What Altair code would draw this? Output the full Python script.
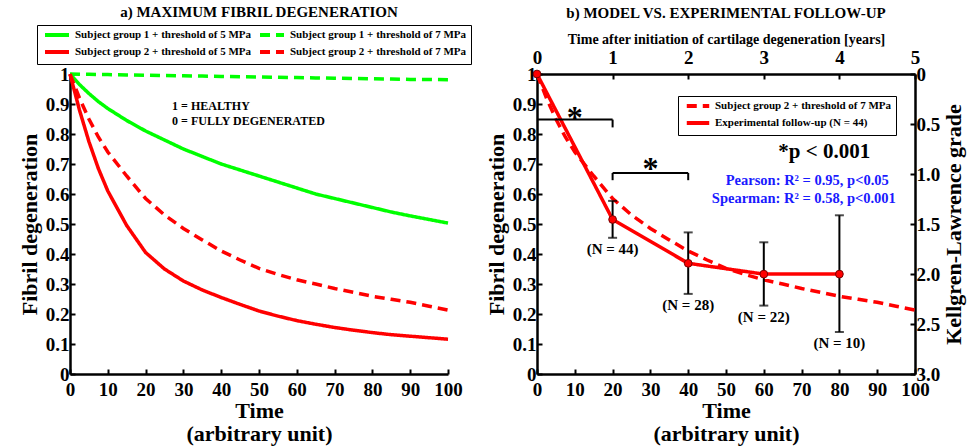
import altair as alt
import pandas as pd

FONT = "Liberation Serif"

# ---------- data ----------
t = [0, 2.5, 5, 7.5, 10, 15, 20, 25, 30, 35, 40, 45, 50, 55, 60, 65, 70, 75, 80, 85, 90, 95, 100]
g1_5 = [1.0, 0.965, 0.935, 0.908, 0.885, 0.845, 0.81, 0.78, 0.75, 0.725, 0.70, 0.68, 0.66, 0.64,
        0.62, 0.60, 0.585, 0.57, 0.555, 0.54, 0.527, 0.515, 0.503]
g1_7 = [1.0, 0.9995, 0.999, 0.9985, 0.998, 0.997, 0.996, 0.995, 0.994, 0.993, 0.992, 0.991, 0.990,
        0.989, 0.988, 0.987, 0.986, 0.985, 0.984, 0.983, 0.982, 0.9815, 0.981]
g2_5 = [1.0, 0.88, 0.775, 0.685, 0.61, 0.495, 0.405, 0.35, 0.31, 0.28, 0.255, 0.232, 0.21, 0.193,
        0.178, 0.166, 0.155, 0.146, 0.138, 0.131, 0.126, 0.121, 0.116]
g2_7 = [1.0, 0.92, 0.85, 0.79, 0.74, 0.66, 0.585, 0.53, 0.485, 0.447, 0.41, 0.38, 0.352, 0.332,
        0.314, 0.30, 0.285, 0.272, 0.259, 0.249, 0.239, 0.226, 0.213]

# legend order (filled column by column): g1-5MPa, g2-5MPa | g1-7MPa, g2-7MPa
series_names = ["Subject group 1 + threshold of 5 MPa", "Subject group 2 + threshold of 5 MPa",
                "Subject group 1 + threshold of 7 MPa", "Subject group 2 + threshold of 7 MPa"]
series_values = [g1_5, g2_5, g1_7, g2_7]
series_colors = ["#00ff00", "#ff0000", "#00ff00", "#ff0000"]
series_dashes = [[1, 0], [1, 0], [10, 6], [10, 6]]

exp_t = [0, 20, 40, 60, 80]
exp_v = [1.0, 0.515, 0.369, 0.333, 0.333]
err_t = [20, 40, 60, 80]
err_lo = [0.454, 0.267, 0.228, 0.140]
err_hi = [0.577, 0.472, 0.439, 0.529]
n_labels = ["(N = 44)", "(N = 28)", "(N = 22)", "(N = 10)"]

right_series = ["Subject group 2 + threshold of 7 MPa", "Experimental follow-up (N = 44)"]

x_ticks = list(range(0, 101, 10))
y_ticks = [i / 10 for i in range(11)]
year_ticks = [0, 1, 2, 3, 4, 5]
kl_ticks = [0, 0.5, 1.0, 1.5, 2.0, 2.5, 3.0]

# ---------- tables ----------
rows = []
for name, vals in zip(series_names, series_values):
    for tt, v in zip(t, vals):
        rows.append({"t": tt, "v": v, "series": name})
left_df = pd.DataFrame(rows)

model_df = pd.DataFrame({"t": t, "v": g2_7, "s": right_series[0]})
exp_df = pd.DataFrame({"t": exp_t, "v": exp_v, "s": right_series[1]})
err_df = pd.DataFrame({"t": err_t, "lo": err_lo, "hi": err_hi, "n": n_labels})

xs = alt.Scale(domain=[0, 100], nice=False)
ys = alt.Scale(domain=[0, 1], nice=False)

x_axis = alt.Axis(values=x_ticks, title=["Time", "(arbitrary unit)"], titleLineHeight=23,
                  titlePadding=1, labelPadding=11, labelOverlap=False, labelFlush=False)
y_axis = alt.Axis(values=y_ticks, format="~g", title="Fibril degeneration", titlePadding=4,
                  labelOverlap=False, labelFlush=False)


def XF(f):
    return alt.X(f, scale=xs, axis=x_axis)


def YF(f):
    return alt.Y(f, scale=ys, axis=y_axis)


def XD(v):
    return alt.XDatum(v, scale=xs, axis=x_axis)


def YD(v):
    return alt.YDatum(v, scale=ys, axis=y_axis)


SYM = "M-3,0H3"

# ---------- left panel ----------
legend_left = alt.Legend(orient="none", legendX=-33, legendY=-49, columns=2, strokeColor="black",
                         padding=4, symbolType=SYM, symbolStrokeWidth=4, symbolSize=64,
                         symbolOffset=10, labelOffset=12,
                         labelFont=FONT, labelFontSize=11, labelFontWeight="bold", labelLimit=300,
                         columnPadding=0, rowPadding=1, fillColor="white")

left_lines = alt.Chart(left_df).mark_line(strokeWidth=3.5).encode(
    x=XF("t:Q"),
    y=YF("v:Q"),
    color=alt.Color("series:N", title=None,
                    scale=alt.Scale(domain=series_names, range=series_colors),
                    legend=legend_left),
    strokeDash=alt.StrokeDash("series:N", title=None,
                              scale=alt.Scale(domain=series_names, range=series_dashes),
                              legend=legend_left),
)

healthy = alt.Chart(pd.DataFrame({"a": [0]})).mark_text(
    text=["1 = HEALTHY", "0 = FULLY DEGENERATED"], align="left", baseline="middle",
    font=FONT, fontSize=12, fontWeight="bold", color="black", lineHeight=15
).encode(x=XD(27.0), y=YD(0.895))

left = alt.layer(left_lines, healthy).properties(
    width=378, height=300,
    title=alt.TitleParams("a) MAXIMUM FIBRIL DEGENERATION", offset=5, anchor="middle"),
)

# ---------- right panel ----------
legend_right = alt.Legend(orient="none", legendX=141, legendY=22, strokeColor="black",
                          padding=4, symbolType=SYM, symbolStrokeWidth=4, symbolSize=56,
                          symbolOffset=10, labelOffset=11,
                          labelFont=FONT, labelFontSize=11, labelFontWeight="bold", labelLimit=300,
                          rowPadding=1, fillColor="white")

r_color = alt.Color("s:N", title=None, scale=alt.Scale(domain=right_series, range=["#ff0000", "#ff0000"]),
                    legend=legend_right)
r_dash = alt.StrokeDash("s:N", title=None, scale=alt.Scale(domain=right_series, range=[[10, 6], [1, 0]]),
                        legend=legend_right)

model_line = alt.Chart(model_df).mark_line(strokeWidth=3.5).encode(
    x=XF("t:Q"), y=YF("v:Q"), color=r_color, strokeDash=r_dash,
)
exp_line = alt.Chart(exp_df).mark_line(strokeWidth=3.5).encode(
    x=XF("t:Q"), y=YF("v:Q"), color=r_color, strokeDash=r_dash,
)
err_rules = alt.Chart(err_df).mark_rule(color="black", strokeWidth=2).encode(
    x=XF("t:Q"), y=YF("lo:Q"), y2="hi:Q")
cap_lo = alt.Chart(err_df).mark_tick(color="black", thickness=2, size=9, orient="horizontal").encode(
    x=XF("t:Q"), y=YF("lo:Q"))
cap_hi = alt.Chart(err_df).mark_tick(color="black", thickness=2, size=9, orient="horizontal").encode(
    x=XF("t:Q"), y=YF("hi:Q"))
pts = alt.Chart(exp_df).mark_point(filled=True, fill="#ff0000", stroke="#7a0000", strokeWidth=1,
                                   size=60, opacity=1).encode(x=XF("t:Q"), y=YF("v:Q"))
n_text = alt.Chart(err_df).mark_text(font=FONT, fontSize=15, fontWeight="bold", color="black",
                                     baseline="top", dy=4).encode(x=XF("t:Q"), y=YF("lo:Q"), text="n:N")

# significance brackets
br_style = dict(color="black", strokeWidth=2)
one = pd.DataFrame({"a": [0]})
b1h = alt.Chart(one).mark_rule(**br_style).encode(x=XD(0), x2=alt.X2Datum(20), y=YD(0.848))
b1v = alt.Chart(one).mark_rule(**br_style).encode(x=XD(20), y=YD(0.822), y2=alt.Y2Datum(0.848))
b2h = alt.Chart(one).mark_rule(**br_style).encode(x=XD(20), x2=alt.X2Datum(40), y=YD(0.670))
b2v1 = alt.Chart(one).mark_rule(**br_style).encode(x=XD(20), y=YD(0.646), y2=alt.Y2Datum(0.670))
b2v2 = alt.Chart(one).mark_rule(**br_style).encode(x=XD(40), y=YD(0.646), y2=alt.Y2Datum(0.670))
star_style = dict(font=FONT, fontSize=32, fontWeight="bold", color="black", baseline="middle")
star1 = alt.Chart(one).mark_text(text="*", **star_style).encode(x=XD(10), y=YD(0.855))
star2 = alt.Chart(one).mark_text(text="*", **star_style).encode(x=XD(30), y=YD(0.685))

pval = alt.Chart(one).mark_text(
    text="*p < 0.001", font=FONT, fontSize=21, fontWeight="bold", color="black", baseline="middle"
).encode(x=XD(76), y=YD(0.741))
pear = alt.Chart(one).mark_text(
    text="Pearson: R\u00b2 = 0.95, p<0.05", font=FONT, fontSize=14.5, fontWeight="bold",
    color="#1a1aff", baseline="middle"
).encode(x=XD(71.5), y=YD(0.645))
spear = alt.Chart(one).mark_text(
    text="Spearman: R\u00b2 = 0.58, p<0.001", font=FONT, fontSize=14.5, fontWeight="bold",
    color="#1a1aff", baseline="middle"
).encode(x=XD(70.6), y=YD(0.585))

inner = alt.layer(model_line, exp_line, b1h, b1v, b2h, b2v1, b2v2, star1, star2,
                  err_rules, cap_lo, cap_hi, pts, n_text, pval, pear, spear)

top_axis = alt.Chart(pd.DataFrame({"yr": [0, 5]})).mark_point(opacity=0).encode(
    x=alt.X("yr:Q", scale=alt.Scale(domain=[0, 5], nice=False),
            axis=alt.Axis(orient="top", values=year_ticks,
                          title="Time after initiation of cartilage degeneration [years]",
                          titleFontSize=14, titlePadding=2, labelPadding=12, labelOverlap=False,
                          labelFlush=False)))
right_axis = alt.Chart(pd.DataFrame({"kl": [0, 3]})).mark_point(opacity=0).encode(
    y=alt.Y("kl:Q", scale=alt.Scale(domain=[0, 3], reverse=True, nice=False),
            axis=alt.Axis(orient="right", values=kl_ticks, labelOverlap=False, labelFlush=False,
                          labelExpr="datum.value == 0 ? '0' : format(datum.value, '.1f')",
                          title="Kellgren-Lawrence grade", titleAngle=270, titleBaseline="top",
                          titlePadding=4)))

right = alt.layer(inner, top_axis, right_axis).resolve_scale(x="independent", y="independent").properties(
    width=378, height=300,
    title=alt.TitleParams("b) MODEL VS. EXPERIMENTAL FOLLOW-UP", offset=11, anchor="middle"),
)

chart = alt.hconcat(left, right, spacing=13).resolve_scale(
    color="independent", strokeDash="independent"
).properties(
    padding={"left": 18, "top": 4, "right": 2, "bottom": 4}
).configure_axis(
    domainColor="black", domainWidth=2.5, tickColor="black", tickWidth=2,
    tickSize={"expr": "-5"}, labelPadding=6, labelOverlap=False, labelFlush=False,
    labelFont=FONT, labelFontWeight="bold", labelFontSize=19, labelColor="black",
    titleFont=FONT, titleFontWeight="bold", titleFontSize=22, titleColor="black", grid=False,
).configure_view(stroke=None).configure_title(
    font=FONT, fontSize=15, fontWeight="bold", color="black"
)

chart.save("out.html", embed_options={"renderer": "svg", "actions": False})
